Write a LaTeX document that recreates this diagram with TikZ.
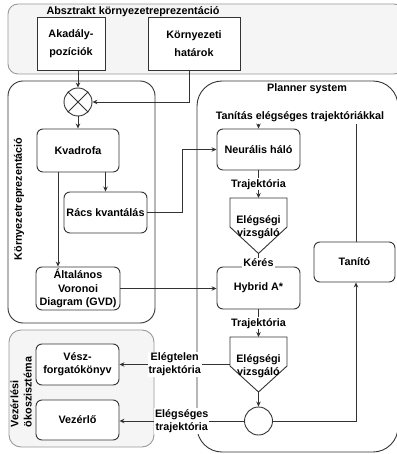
\documentclass[tikz,border=0pt]{standalone}
\usepackage{fontspec}
\setmainfont{Liberation Sans}
\usetikzlibrary{arrows.meta}
\definecolor{boxline}{HTML}{333333}
\definecolor{grayfill}{HTML}{F5F5F5}
\definecolor{grayline}{HTML}{9A9A9A}
\begin{document}
\begin{tikzpicture}[x=1bp,y=-1bp,
  font=\fontsize{10.8bp}{13.3bp}\selectfont\bfseries,
  line width=0.9bp,
  box/.style={draw=boxline, rounded corners=6bp, fill=white, align=center, inner sep=0pt,
    minimum width=83bp, minimum height=41bp},
  sqbox/.style={draw=boxline, fill=white, align=center, inner sep=0pt,
    minimum width=68bp, minimum height=53bp, font=\fontsize{10.8bp}{18bp}\selectfont\bfseries},
  arr/.style={draw=boxline, -{Stealth[length=5bp,width=4.5bp]}},
  conn/.style={draw=boxline},
  lbl/.style={fill=white, inner sep=1bp, align=center},
  ttl/.style={inner sep=0pt, align=center},
]
\useasboundingbox (0,0) rectangle (396,454);

% containers
\draw[grayline, fill=grayfill, rounded corners=10bp] (8,4) rectangle (404,74);
\draw[boxline, rounded corners=15bp] (8,81) rectangle (155,323);
\draw[boxline, rounded corners=25bp] (197,81) rectangle (398,452);
\draw[grayline, fill=grayfill, rounded corners=12bp] (9,330) rectangle (154,447);

\node[ttl] (tabs) at (133,12) {Absztrakt környezetreprezentáció};
\node[ttl] (tplan) at (307,89) {Planner system};
\node[ttl, rotate=90] (tkorny) at (19,199) {Környezetreprezentáció};
\node[ttl, rotate=90, align=left] (tvez) at (21,392) {Vezérlési\\ökoszisztéma};

% boxes
\node[sqbox] (akad) at (71,43.5) {Akadály-\\pozíciók};
\node[sqbox, minimum width=92bp] (korny) at (194,43.5) {Környezeti\\határok};
\node[draw=boxline, circle, minimum size=28bp, inner sep=0pt, fill=white] (cross) at (78,102) {};
\draw[boxline] (cross.north east) -- (cross.south west) (cross.north west) -- (cross.south east);

\node[box, minimum width=82bp, minimum height=43bp] (kvad) at (78,150.5) {Kvadrofa};
\node[box] (racs) at (105.5,212.5) {Rács kvantálás};
\node[box, minimum width=84bp, minimum height=43bp] (gvd) at (78,288.5) {Általános\\Voronoi\\Diagram (GVD)};

\node[box] (neur) at (258.5,149.5) {Neurális háló};
\node[box, minimum height=42bp] (hyb) at (258.5,288) {Hybrid A*};
\node[box, minimum width=81bp, minimum height=40bp] (tanito) at (354.5,262) {Tanító};

\node[box] (vesz) at (77.5,364.5) {Vész-\\forgatókönyv};
\node[box, minimum height=40bp] (vezerlo) at (77.5,420) {Vezérlő};

% pentagons
\coordinate (p1top) at (258.5,198);
\coordinate (p1pt) at (258.5,253.5);
\draw[boxline, fill=white] (230,198) -- (287,198) -- (287,227) -- (p1pt) -- (230,227) -- cycle;
\node[ttl] (p1) at (258.5,227) {Elégségi\\vizsgáló};

\coordinate (p2top) at (258.5,337);
\coordinate (p2pt) at (258.5,392);
\coordinate (p2left) at (230,364.5);
\draw[boxline, fill=white] (230,337) -- (287,337) -- (287,366) -- (p2pt) -- (230,366) -- cycle;
\node[ttl] (p2) at (258.5,366) {Elégségi\\vizsgáló};

\node[draw=boxline, circle, minimum size=28bp, inner sep=0pt, fill=white] (circ) at (258.5,421) {};

% connectors
\draw[arr] (akad.south -| cross.north) -- (cross.north);
\draw[arr] ([xshift=-5bp]korny.south) |- (cross.east);
\draw[arr] (cross.south) -- (kvad.north);
\draw[arr] (kvad.south -| racs.north) -- (racs.north);
\draw[arr] ([xshift=-20bp]kvad.south) -- ([xshift=-20bp]kvad.south |- gvd.north);
\draw[arr] (racs.east) -- ++(35,0) |- (neur.west);
\draw[arr] (gvd.east) -- (gvd.east -| hyb.west);

\node[lbl] (tlbl) at (300,117) {Tanítás elégséges trajektóriákkal};
\draw[conn] ([xshift=1.5bp]tanito.north) -- ([xshift=1.5bp]tanito.north |- tlbl.south);
\draw[arr] (tlbl.south -| neur.north) -- (neur.north);

\draw[arr] (neur.south) -- node[lbl] (l1) {Trajektória} (p1top);
\draw[arr] (p1pt) -- node[lbl, pos=0.7] (l2) {Kérés} (hyb.north);
\draw[arr] (hyb.south) -- node[lbl] (l3) {Trajektória} (p2top);
\draw[arr] (p2pt) -- (circ.north);
\draw[arr] (circ.east) -| ([xshift=1.5bp]tanito.south);
\draw[arr] (p2left) -- node[lbl] (l4) {Elégtelen\\trajektória} (p2left -| vesz.east);
\draw[arr] (circ.west) -- node[lbl] (l5) {Elégséges\\trajektória} (circ.west -| vezerlo.east);
\end{tikzpicture}
\end{document}
